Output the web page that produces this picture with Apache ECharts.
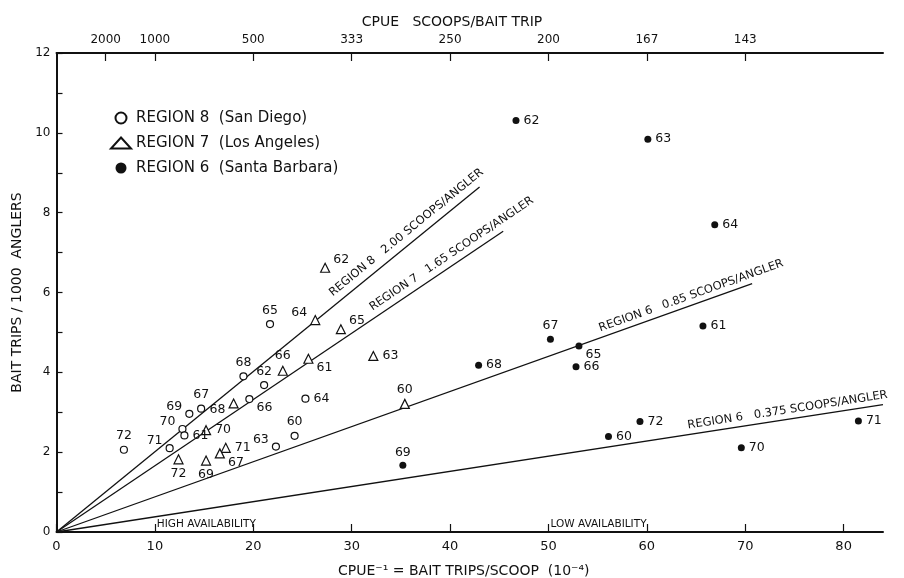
<!DOCTYPE html>
<html>
<head>
<meta charset="utf-8">
<script src="https://cdn.jsdelivr.net/npm/echarts@6.0.0/dist/echarts.min.js"></script>
<style>
  html, body { margin: 0; padding: 0; background: #fff; }
  #chart { width: 904px; height: 578px; }
</style>
</head>
<body>
<div id="chart"></div>
<script>
// Region 8 (San Diego) - open circles
const r8Years = ['72', '71', '70', '61', '69', '67', '65', '68', '62', '66', '64', '60', '63']
const r8Points = [
  [6.85, 2.06], [11.5, 2.10], [12.8, 2.58], [13.0, 2.42], [13.5, 2.96], [14.7, 3.09], [21.7, 5.21],
  [19.0, 3.90], [21.1, 3.68], [19.6, 3.33], [25.3, 3.34], [24.2, 2.41], [22.3, 2.14]
]
// Region 7 (Los Angeles) - open triangles
const r7Years = ['62', '64', '65', '63', '60', '61', '66', '68', '70', '71', '67', '69', '72']
const r7Points = [
  [27.3, 6.62], [26.3, 5.31], [28.9, 5.08], [32.2, 4.41], [35.4, 3.21], [25.6, 4.34], [23.0, 4.04],
  [18.0, 3.22], [15.2, 2.55], [17.2, 2.11], [16.6, 1.97], [15.2, 1.79], [12.4, 1.82]
]
// Region 6 (Santa Barbara) - filled dots
const r6Years = ['62', '63', '64', '67', '65', '66', '61', '72', '60', '70', '71', '68', '69']
const r6Points = [
  [46.7, 10.31], [60.1, 9.84], [66.9, 7.70], [50.2, 4.83], [53.1, 4.66], [52.8, 4.14], [65.7, 5.16],
  [59.3, 2.77], [56.1, 2.39], [69.6, 2.11], [81.5, 2.78], [42.9, 4.18], [35.2, 1.67]
]

// fitted lines through the origin
const lineNames = ['REGION 8   2.00 SCOOPS/ANGLER', 'REGION 7   1.65 SCOOPS/ANGLER', 'REGION 6   0.85 SCOOPS/ANGLER', 'REGION 6   0.375 SCOOPS/ANGLER']
const lineSlopes = [0.201, 0.166, 0.088, 0.038]
const lineEnds = [43.0, 45.4, 70.7, 84]

// top axis: CPUE = 1 / x
const topTicks = [5, 10, 20, 30, 40, 50, 60, 70]
const topLabels = ['2000', '1000', '500', '333', '250', '200', '167', '143']

const noteTexts = ['HIGH AVAILABILITY', 'LOW AVAILABILITY']
const notePoints = [[10.2, 0.2], [50.2, 0.2]]

// label placement per point (style, kept apart from the values)
const r8LabelDir = ['n', 'nw', 'nw', 'e', 'nw', 'n', 'n', 'n', 'n', 'se', 'e', 'n', 'nw']
const r7LabelDir = ['ne', 'nw', 'ne', 'e', 'n', 'se', 'n', 'sw', 'e', 'e', 'se', 's', 's']
const r6LabelDir = ['e', 'e', 'e', 'n', 'se', 'e', 'e', 'e', 'e', 'e', 'e', 'e', 'n']

const ink = '#111'
const font = 'DejaVu Sans'

const dirs = {
  n: { position: 'top', distance: 3 },
  s: { position: 'bottom', distance: 3 },
  e: { position: 'right', distance: 4 },
  w: { position: 'left', distance: 4 },
  ne: { position: 'right', distance: 3, offset: [0, -8] },
  nw: { position: 'left', distance: 3, offset: [0, -7] },
  se: { position: 'right', distance: 3, offset: [0, 9] },
  sw: { position: 'left', distance: 3, offset: [0, 6] }
}

function pts(points, years, dirList) {
  return points.map((p, i) => ({
    value: p,
    name: years[i],
    label: dirs[dirList[i]]
  }))
}

const pointLabel = {
  show: true,
  formatter: p => p.name,
  color: ink,
  fontFamily: font,
  fontSize: 12.5
}

const lineDist = [[-12, 5], [-42, 4], [-36, 3], [-6, 3]]

const chart = echarts.init(document.getElementById('chart'))
chart.setOption({
  animation: false,
  backgroundColor: '#fff',
  title: {
    text: 'CPUE   SCOOPS/BAIT TRIP',
    left: 'center',
    top: 10,
    textStyle: { color: ink, fontFamily: font, fontSize: 14, fontWeight: 'normal' }
  },
  legend: {
    orient: 'vertical',
    left: 105,
    top: 104,
    itemWidth: 20,
    itemHeight: 11,
    itemGap: 7,
    data: ['REGION 8  (San Diego)', 'REGION 7  (Los Angeles)', 'REGION 6  (Santa Barbara)'],
    textStyle: { color: ink, fontFamily: font, fontSize: 15, lineHeight: 18 }
  },
  grid: { left: 56.5, right: 21, top: 53, bottom: 46, outerBoundsMode: 'none', containLabel: false },
  xAxis: [
    {
      type: 'value',
      position: 'bottom',
      min: 0,
      max: 84,
      interval: 10,
      name: 'CPUE\u207B\u00B9 = BAIT TRIPS/SCOOP  (10\u207B\u2074)',
      nameLocation: 'middle',
      nameGap: 32,
      nameTextStyle: { color: ink, fontFamily: font, fontSize: 14, padding: [0, 12, 0, 0] },
      axisLine: { onZero: false, lineStyle: { color: ink, width: 2 } },
      axisTick: { inside: true, length: 8, lineStyle: { color: ink, width: 1.2 } },
      axisLabel: { color: ink, fontFamily: font, fontSize: 13, margin: 8, showMaxLabel: false,
        formatter: v => (v % 10 === 0 && v <= 80 ? String(v) : '') },
      splitLine: { show: false }
    },
    {
      type: 'value',
      position: 'top',
      min: 0,
      max: 84,
      axisLine: { onZero: false, lineStyle: { color: ink, width: 2 } },
      axisTick: { inside: true, length: 8, customValues: topTicks, lineStyle: { color: ink, width: 1.2 } },
      axisLabel: { color: ink, fontFamily: font, fontSize: 12, margin: 7, customValues: topTicks,
        formatter: v => topLabels[topTicks.indexOf(v)] || '' },
      splitLine: { show: false }
    }
  ],
  yAxis: {
    type: 'value',
    min: 0,
    max: 12,
    interval: 1,
    name: 'BAIT TRIPS / 1000  ANGLERS',
    nameLocation: 'middle',
    nameGap: 21,
    nameTextStyle: { color: ink, fontFamily: font, fontSize: 14 },
    axisLine: { show: true, onZero: false, lineStyle: { color: ink, width: 2 } },
    axisTick: { show: true, inside: true, length: 6, lineStyle: { color: ink, width: 1.2 } },
    axisLabel: { color: ink, fontFamily: font, fontSize: 12, margin: 6,
      formatter: v => (v % 2 === 0 ? String(v) : '') },
    splitLine: { show: false }
  },
  series: [
    {
      name: 'REGION 8  (San Diego)',
      type: 'scatter',
      symbol: 'circle',
      symbolSize: 7,
      itemStyle: { color: '#fff', borderColor: ink, borderWidth: 1.2, opacity: 1 },
      label: pointLabel,
      data: pts(r8Points, r8Years, r8LabelDir),
      z: 5
    },
    {
      name: 'REGION 7  (Los Angeles)',
      type: 'scatter',
      symbol: 'triangle',
      symbolSize: 9,
      itemStyle: { color: '#fff', borderColor: ink, borderWidth: 1.2, opacity: 1 },
      label: pointLabel,
      data: pts(r7Points, r7Years, r7LabelDir),
      z: 5
    },
    {
      name: 'REGION 6  (Santa Barbara)',
      type: 'scatter',
      symbol: 'circle',
      symbolSize: 7,
      itemStyle: { color: ink, opacity: 1 },
      label: pointLabel,
      data: pts(r6Points, r6Years, r6LabelDir),
      z: 5
    },
    {
      name: 'fits',
      type: 'scatter',
      data: [],
      markLine: {
        silent: true,
        symbol: 'none',
        animation: false,
        lineStyle: { color: ink, width: 1.3, type: 'solid', opacity: 1 },
        data: lineNames.map((n, i) => [
          { coord: [0, 0], name: n },
          { coord: [lineEnds[i], lineSlopes[i] * lineEnds[i]] }
        ]).map((pair, i) => {
          pair[0].label = {
            show: true,
            position: 'insideEndTop',
            distance: lineDist[i],
            formatter: lineNames[i],
            color: ink,
            fontFamily: font,
            fontSize: 11.5
          }
          return pair
        })
      }
    },
    {
      name: 'notes',
      type: 'scatter',
      symbolSize: 0,
      silent: true,
      itemStyle: { opacity: 1 },
      label: {
        show: true,
        position: 'right',
        distance: 0,
        formatter: p => noteTexts[p.dataIndex],
        color: ink,
        fontFamily: font,
        fontSize: 10.5
      },
      data: notePoints
    }
  ]
})

window.addEventListener('resize', () => {
  chart.resize()
})
</script>
</body>
</html>
